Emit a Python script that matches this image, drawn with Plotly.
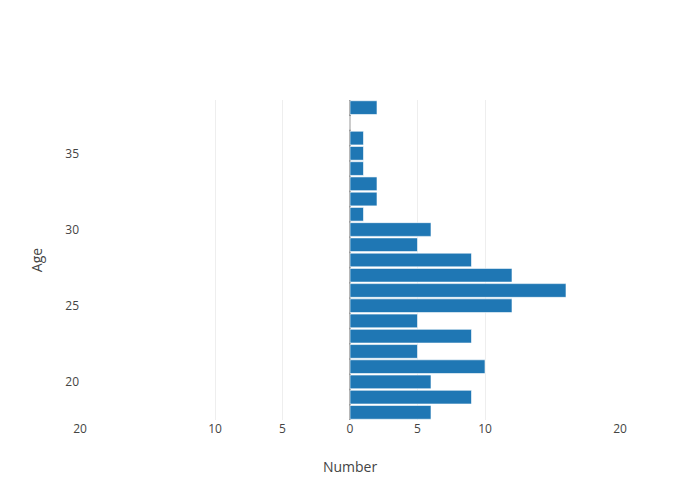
import plotly.graph_objects as go

ages = list(range(18, 39))
counts = [6, 9, 6, 10, 5, 9, 5, 12, 16, 12, 9, 5, 6, 1, 2, 2, 1, 1, 1, 0, 2]
tick_vals = [-20, -10, -5, 0, 5, 10, 20]
tick_text = ["20", "10", "5", "0", "5", "10", "20"]

fig = go.Figure()
fig.add_trace(go.Bar(
    y=ages, x=counts, orientation="h",
    marker=dict(color="#1f77b4", line=dict(color="rgba(255,255,255,0.6)", width=1)),
))
fig.update_layout(
    template="none",
    margin=dict(l=80, r=80, t=100, b=80),
    font=dict(family="Open Sans, verdana, arial, sans-serif", color="#444"),
    barmode="overlay", bargap=0.1,
    showlegend=False,
    plot_bgcolor="white", paper_bgcolor="white",
    xaxis=dict(range=[-20, 20], tickvals=tick_vals, ticktext=tick_text,
               title=dict(text="Number"), showgrid=True, gridcolor="#eee",
               zeroline=True, zerolinecolor="#999", zerolinewidth=2,
               showline=False, ticks=""),
    yaxis=dict(range=[17.5, 38.5], dtick=5, title=dict(text="Age"),
               showgrid=False, zeroline=False, showline=False, ticks=""),
)
fig.write_html("out.html", default_width="700px", default_height="500px",
               full_html=True, include_plotlyjs=True,
               config={"displayModeBar": False},
               post_script="document.body.style.margin='0';")
